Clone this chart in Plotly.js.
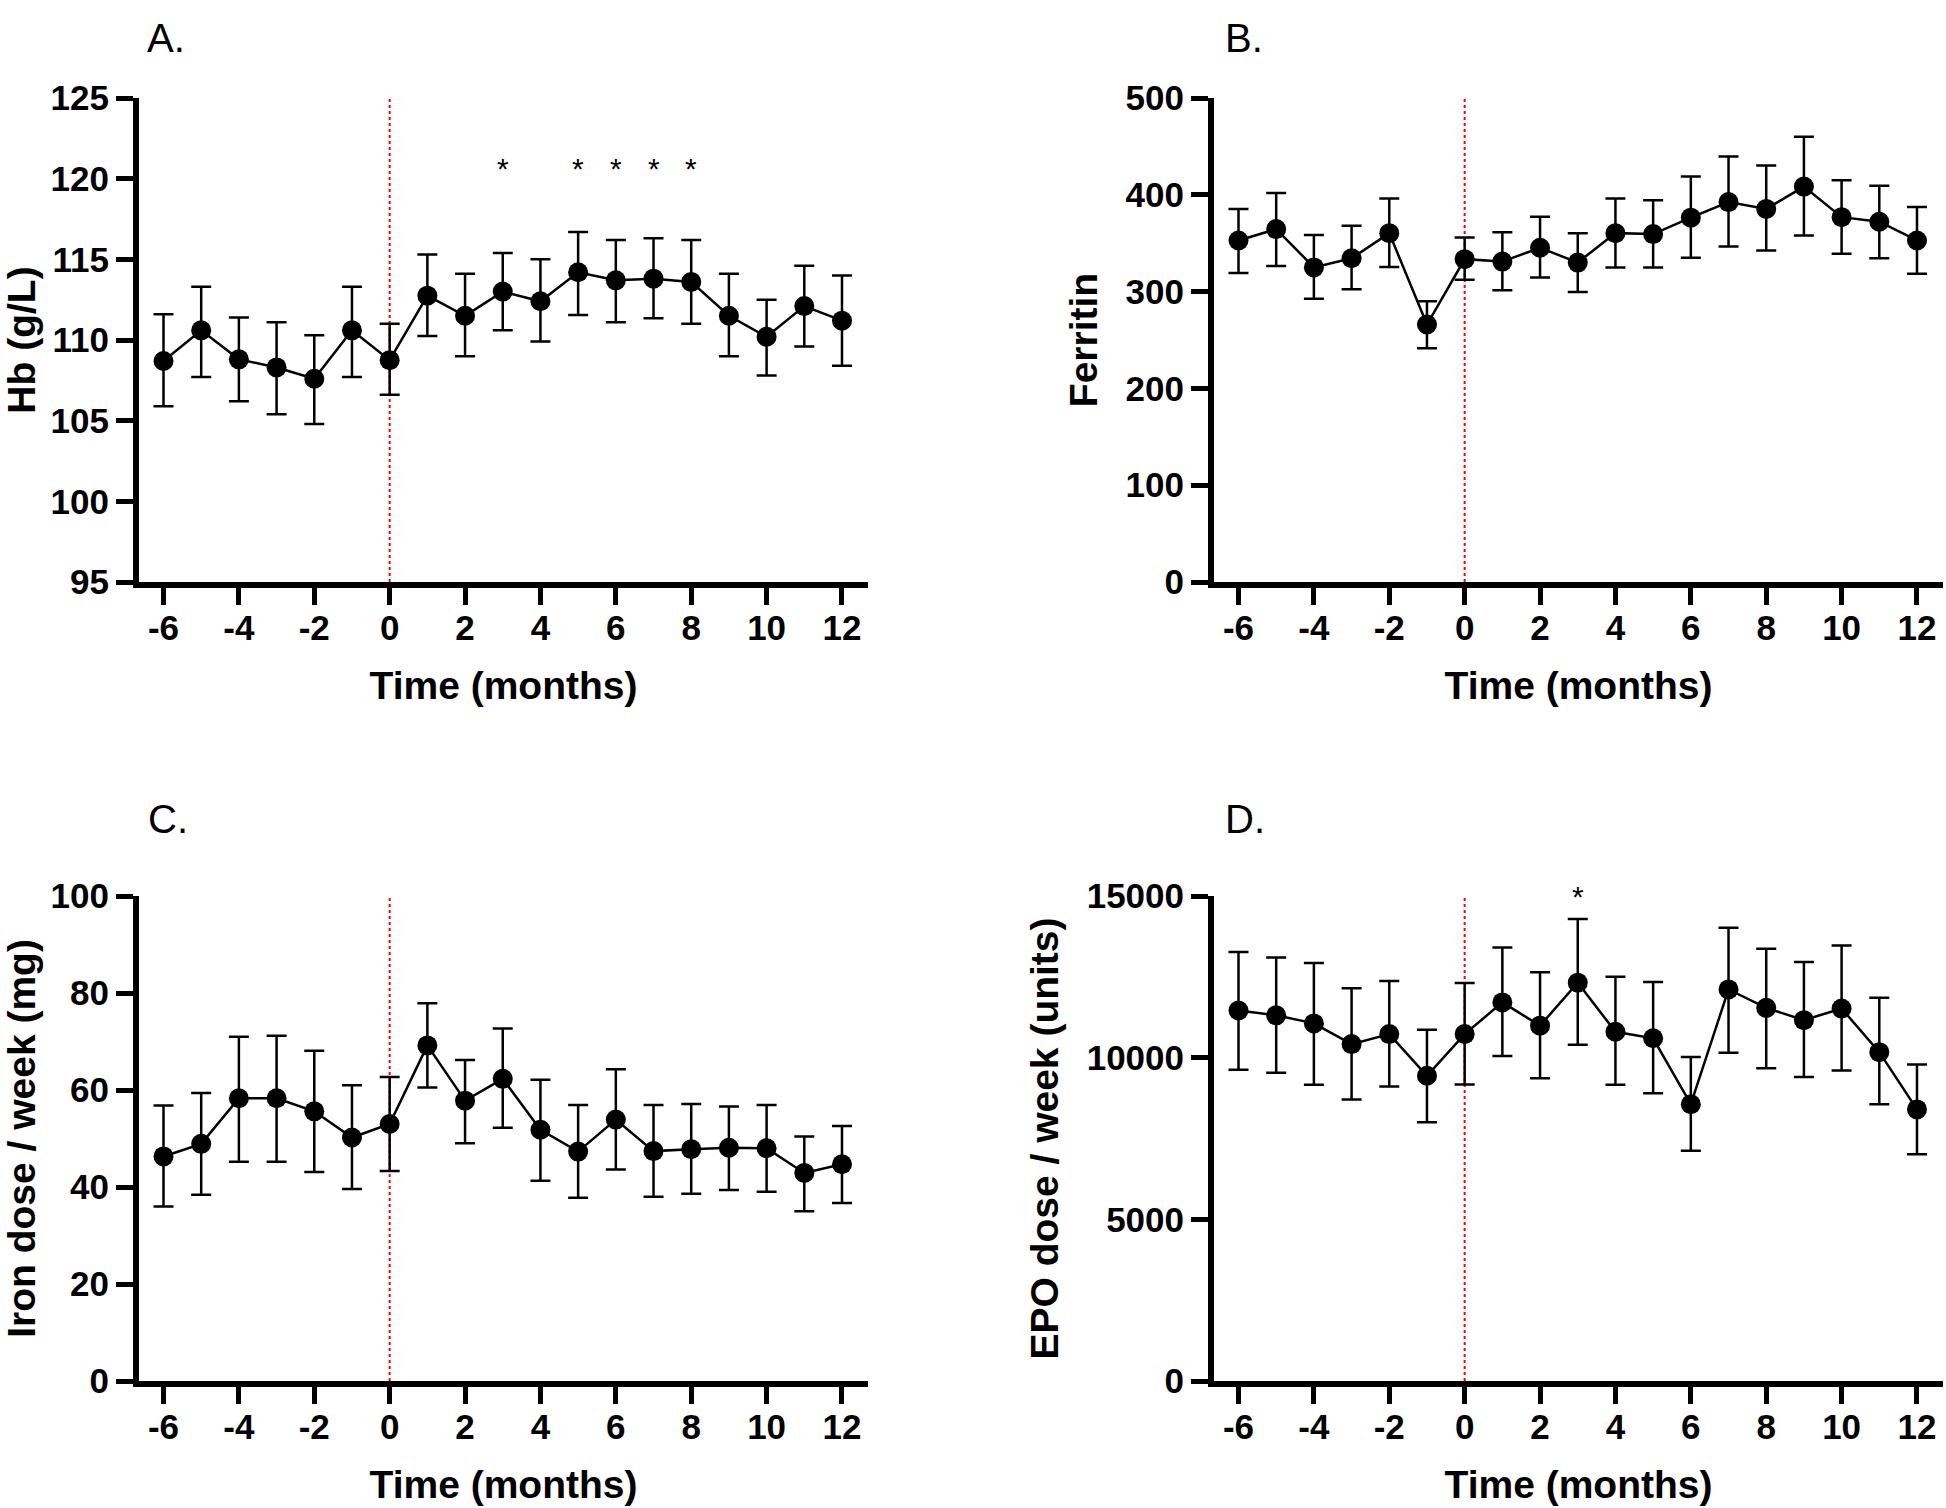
<!DOCTYPE html>
<html>
<head>
<meta charset="utf-8">
<script src="https://cdn.plot.ly/plotly-3.0.1.min.js"></script>
<style>
  html, body { margin: 0; padding: 0; background: #ffffff; }
  #chart { width: 1946px; height: 1508px; }
</style>
</head>
<body>
<div id="chart"></div>
<script>
// ---------------- Data ----------------
const months = [-6, -5, -4, -3, -2, -1, 0, 1, 2, 3, 4, 5, 6, 7, 8, 9, 10, 11, 12];
const xTickVals = [-6, -4, -2, 0, 2, 4, 6, 8, 10, 12];

// A. Hb (g/L)
const hbMean = [108.7, 110.6, 108.8, 108.3, 107.6, 110.6, 108.75, 112.75, 111.5, 113.0, 112.4, 114.2, 113.7, 113.8, 113.6, 111.5, 110.2, 112.1, 111.2];
const hbHigh = [111.6, 113.3, 111.4, 111.1, 110.3, 113.3, 111.0, 115.3, 114.1, 115.4, 115.0, 116.7, 116.2, 116.3, 116.2, 114.1, 112.5, 114.6, 114.0];
const hbLow  = [105.9, 107.7, 106.2, 105.4, 104.8, 107.7, 106.6, 110.25, 109.0, 110.6, 109.9, 111.55, 111.1, 111.35, 111.0, 109.0, 107.8, 109.6, 108.4];
const hbSigMonths = [3, 5, 6, 7, 8];
const hbSigY = [120.6, 120.6, 120.6, 120.6, 120.6];
const hbTicks = [95, 100, 105, 110, 115, 120, 125];

// B. Ferritin
const ferMean = [352.8, 364.6, 325, 334.4, 360.4, 266, 333.5, 331, 345.3, 330, 360.4, 359.4, 376.4, 392.5, 385.4, 408.5, 376.9, 372.2, 352.8];
const ferHigh = [385.4, 401.9, 358.5, 367.9, 396.2, 290, 356, 361.3, 377.4, 360.4, 396.2, 394.3, 418.9, 439.6, 430.2, 459.9, 415.1, 409.4, 387.3];
const ferLow  = [319.3, 326.4, 292.5, 302.4, 325.5, 241.5, 312.3, 301.4, 314.6, 299.5, 325, 325, 334.9, 346.7, 342.5, 358, 339.2, 334.4, 318.4];
const ferTicks = [0, 100, 200, 300, 400, 500];

// C. Iron dose / week (mg)
const ironMean = [46.3, 48.9, 58.3, 58.3, 55.6, 50.2, 53.0, 69.2, 57.8, 62.3, 51.8, 47.3, 53.9, 47.4, 47.8, 48.1, 48.0, 42.9, 44.7];
const ironHigh = [56.8, 59.4, 71.0, 71.2, 68.1, 61.0, 62.7, 77.9, 66.2, 72.7, 62.1, 56.9, 64.3, 56.9, 57.1, 56.6, 56.9, 50.4, 52.6];
const ironLow  = [36.0, 38.4, 45.2, 45.2, 43.1, 39.6, 43.3, 60.5, 49.0, 52.2, 41.3, 37.8, 43.6, 38.0, 38.6, 39.4, 39.0, 35.0, 36.7];
const ironTicks = [0, 20, 40, 60, 80, 100];

// D. EPO dose / week (units)
const epoMean = [11460, 11310, 11060, 10420, 10730, 9440, 10730, 11710, 10990, 12320, 10800, 10600, 8560, 12110, 11540, 11160, 11520, 10170, 8400];
const epoHigh = [13270, 13100, 12930, 12150, 12370, 10860, 12310, 13410, 12640, 14290, 12500, 12340, 10020, 14020, 13370, 12960, 13470, 11850, 9790];
const epoLow  = [9630, 9530, 9160, 8710, 9110, 8000, 9170, 10050, 9360, 10400, 9160, 8900, 7120, 10150, 9670, 9400, 9600, 8560, 7010];
const epoSigMonths = [3];
const epoSigY = [15000];
const epoTicks = [0, 5000, 10000, 15000];

// ---------------- Layout geometry (pixels) ----------------
const W = 1946, H = 1508;
const FONT = '"Liberation Sans", Arial, Helvetica, sans-serif';

function px2x(p) { return p / W; }
function px2y(p) { return 1 - p / H; }

const colL = [139, 868], colR = [1214, 1943];
const rowT = [98, 582], rowB = [896, 1381];
const xRange = [-6.65, 12.69];

function meanTrace(xa, ya, mean, high, low) {
  return {
    type: 'scatter', mode: 'lines+markers', x: months, y: mean,
    xaxis: xa, yaxis: ya, cliponaxis: false, showlegend: false, hoverinfo: 'x+y',
    line: { color: '#000000', width: 2.5 },
    marker: { color: '#000000', size: 20, symbol: 'circle' },
    error_y: {
      type: 'data', symmetric: false,
      array: high.map((h, i) => h - mean[i]),
      arrayminus: low.map((l, i) => mean[i] - l),
      color: '#000000', thickness: 2.5, width: 10
    }
  };
}

const traces = [
  meanTrace('x', 'y', hbMean, hbHigh, hbLow),
  meanTrace('x2', 'y2', ferMean, ferHigh, ferLow),
  meanTrace('x3', 'y3', ironMean, ironHigh, ironLow),
  meanTrace('x4', 'y4', epoMean, epoHigh, epoLow)
];

function xAxis(col, anchor) {
  return {
    domain: [px2x(col[0]), px2x(col[1])], anchor: anchor,
    range: xRange, tickmode: 'array', tickvals: xTickVals, ticktext: xTickVals.map(String),
    showline: true, linecolor: '#000000', linewidth: 6,
    ticks: 'outside', ticklen: 17, tickwidth: 5, tickcolor: '#000000',
    ticklabelstandoff: -7,
    showgrid: false, zeroline: false,
    tickfont: { family: FONT, size: 35, color: '#000000', weight: 'bold' },
    title: { text: 'Time (months)', font: { family: FONT, size: 39, color: '#000000', weight: 'bold' }, standoff: 28 }
  };
}
function yAxis(row, anchor, range, ticks, title) {
  return {
    domain: [px2y(row[1]), px2y(row[0])], anchor: anchor,
    range: range, tickmode: 'array', tickvals: ticks, ticktext: ticks.map(String),
    showline: true, linecolor: '#000000', linewidth: 6,
    ticks: 'outside', ticklen: 17, tickwidth: 5, tickcolor: '#000000',
    showgrid: false, zeroline: false,
    tickfont: { family: FONT, size: 35, color: '#000000', weight: 'bold' },
    title: { text: title, font: { family: FONT, size: 39, color: '#000000', weight: 'bold' }, standoff: 18 }
  };
}

function zeroLine(xa, ya) {
  return {
    type: 'line', xref: xa, yref: ya + ' domain', x0: 0, x1: 0, y0: 0, y1: 1,
    line: { color: '#ff0000', width: 2, dash: 'dot' }, layer: 'below'
  };
}

function panelLabel(text, xpx, ypx) {
  return {
    text: text, xref: 'paper', yref: 'paper', x: px2x(xpx), y: px2y(ypx),
    xanchor: 'left', yanchor: 'top', showarrow: false,
    font: { family: FONT, size: 40, color: '#000000' }
  };
}

function sigNotes(xa, ya, xs, ys) {
  return xs.map((m, i) => ({
    text: '*', xref: xa, yref: ya, x: m, y: ys[i],
    xanchor: 'center', yanchor: 'middle', showarrow: false,
    font: { family: FONT, size: 30, color: '#000000' }
  }));
}

const layout = {
  width: W, height: H,
  margin: { l: 0, r: 0, t: 0, b: 0 },
  paper_bgcolor: '#ffffff', plot_bgcolor: '#ffffff',
  showlegend: false,
  xaxis: xAxis(colL, 'y'),
  yaxis: yAxis(rowT, 'x', [95, 125], hbTicks, 'Hb (g/L)'),
  xaxis2: xAxis(colR, 'y2'),
  yaxis2: yAxis(rowT, 'x2', [0, 500], ferTicks, 'Ferritin'),
  xaxis3: xAxis(colL, 'y3'),
  yaxis3: yAxis(rowB, 'x3', [0, 100], ironTicks, 'Iron dose / week (mg)'),
  xaxis4: xAxis(colR, 'y4'),
  yaxis4: yAxis(rowB, 'x4', [0, 15000], epoTicks, 'EPO dose / week (units)'),
  shapes: [zeroLine('x', 'y'), zeroLine('x2', 'y2'), zeroLine('x3', 'y3'), zeroLine('x4', 'y4')],
  annotations: [
    panelLabel('A.', 145, 14),
    panelLabel('B.', 1223, 14),
    panelLabel('C.', 146, 795),
    panelLabel('D.', 1223, 795)
  ].concat(sigNotes('x', 'y', hbSigMonths, hbSigY))
   .concat(sigNotes('x4', 'y4', epoSigMonths, epoSigY))
};

Plotly.newPlot('chart', traces, layout, { staticPlot: true, displayModeBar: false });
</script>
</body>
</html>
